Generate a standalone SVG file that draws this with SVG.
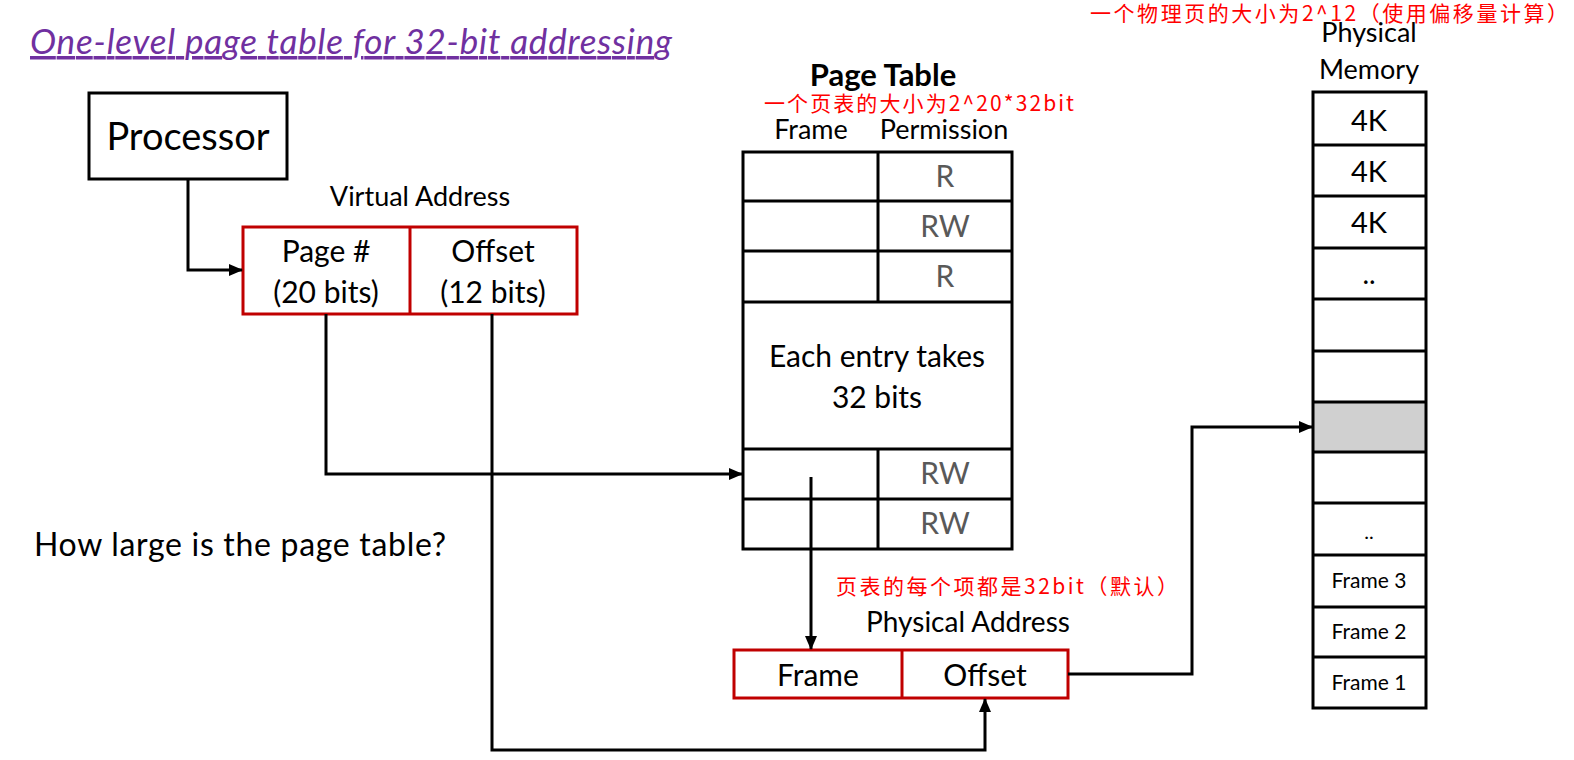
<svg xmlns="http://www.w3.org/2000/svg" width="1574" height="760" viewBox="0 0 1574 760">
<style>
.t{font-family:Lato,"Liberation Sans",sans-serif;fill:#000;text-anchor:middle}
.g{fill:#595959}
.red{font-family:"Noto Sans CJK SC",sans-serif;fill:#ff0000;font-size:21px}
.box{fill:#fff;stroke:#000;stroke-width:3}
.rbox{fill:#fff;stroke:#c00000;stroke-width:3}
.ln{fill:none;stroke:#000;stroke-width:3}
.conn{fill:none;stroke:#000;stroke-width:3;marker-end:url(#ah)}
</style>
<defs>
<marker id="ah" markerUnits="userSpaceOnUse" markerWidth="14" markerHeight="12" viewBox="0 0 14 12" refX="13" refY="6" orient="auto">
<path d="M0,0 L14,6 L0,12 z" fill="#000"/>
</marker>
</defs>
<rect width="1574" height="760" fill="#fff"/>

<g id="title">
<text x="30" y="54" font-family="Lato,'Liberation Sans',sans-serif" font-style="italic" font-size="35" fill="#7030a0" textLength="642" text-decoration="underline">One-level page table for 32-bit addressing</text>
</g>

<g id="note-top">
<text class="red" x="1090" y="21" textLength="478">一个物理页的大小为2^12（使用偏移量计算）</text>
</g>

<g id="processor">
<rect class="box" x="89" y="93" width="198" height="86"/>
<text class="t" x="188" y="150" font-size="38">Processor</text>
</g>

<g id="virtual-address">
<text class="t" x="420" y="206" font-size="27">Virtual Address</text>
<rect class="rbox" x="243" y="227" width="334" height="87"/>
<line x1="410" y1="227" x2="410" y2="314" stroke="#c00000" stroke-width="3"/>
<text class="t" x="326" y="262" font-size="30">Page #</text>
<text class="t" x="326" y="303" font-size="30">(20 bits)</text>
<text class="t" x="493" y="262" font-size="30">Offset</text>
<text class="t" x="493" y="303" font-size="30">(12 bits)</text>
</g>

<g id="page-table">
<text class="t" x="883" y="86" font-size="31" font-weight="bold">Page Table</text>
<text class="red" x="764" y="111" textLength="310">一个页表的大小为2^20*32bit</text>
<text class="t" x="811" y="139" font-size="27">Frame</text>
<text class="t" x="944" y="139" font-size="27">Permission</text>
<rect class="box" x="743" y="152" width="269" height="397"/>
<path class="ln" d="M743,201 H1012 M743,251 H1012 M743,302 H1012 M743,449 H1012 M743,499 H1012 M878,152 V302 M878,449 V549"/>
<text class="t g" x="945" y="187" font-size="30">R</text>
<text class="t g" x="945" y="237" font-size="30">RW</text>
<text class="t g" x="945" y="287" font-size="30">R</text>
<text class="t" x="877" y="367" font-size="30">Each entry takes</text>
<text class="t" x="877" y="408" font-size="30">32 bits</text>
<text class="t g" x="945" y="484" font-size="30">RW</text>
<text class="t g" x="945" y="534" font-size="30">RW</text>
</g>

<g id="question">
<text x="34" y="556" font-family="Lato,'Liberation Sans',sans-serif" font-size="32" fill="#000" textLength="412">How large is the page table?</text>
</g>

<g id="note-entry">
<text class="red" x="836" y="594" textLength="342">页表的每个项都是32bit（默认）</text>
</g>

<g id="physical-address">
<text class="t" x="968" y="632" font-size="28">Physical Address</text>
<rect class="rbox" x="734" y="650" width="334" height="48"/>
<line x1="902" y1="650" x2="902" y2="698" stroke="#c00000" stroke-width="3"/>
<text class="t" x="818" y="686" font-size="30">Frame</text>
<text class="t" x="985" y="686" font-size="30">Offset</text>
</g>

<g id="physical-memory">
<text class="t" x="1369" y="42" font-size="27">Physical</text>
<text class="t" x="1369" y="79" font-size="27">Memory</text>
<rect x="1313" y="402" width="113" height="50" fill="#d0d0d0"/>
<rect x="1313" y="92" width="113" height="616" fill="none" stroke="#000" stroke-width="3"/>
<path class="ln" d="M1313,145 H1426 M1313,196 H1426 M1313,248 H1426 M1313,299 H1426 M1313,351 H1426 M1313,402 H1426 M1313,452 H1426 M1313,503 H1426 M1313,555 H1426 M1313,607 H1426 M1313,657 H1426"/>
<text class="t" x="1369" y="131" font-size="29">4K</text>
<text class="t" x="1369" y="182" font-size="29">4K</text>
<text class="t" x="1369" y="233" font-size="29">4K</text>
<text class="t" x="1369" y="284" font-size="28">..</text>
<text class="t" x="1369" y="539" font-size="20">..</text>
<text class="t" x="1369" y="588" font-size="21">Frame 3</text>
<text class="t" x="1369" y="639" font-size="21">Frame 2</text>
<text class="t" x="1369" y="690" font-size="21">Frame 1</text>
</g>

<g id="connectors">
<path class="conn" d="M188,179 V270 H242"/>
<path class="conn" d="M326,314 V474 H742"/>
<path class="conn" d="M492,314 V750 H985 V699"/>
<path class="conn" d="M811,477 V649"/>
<path class="conn" d="M1068,674 H1192 V427 H1312"/>
</g>
</svg>
